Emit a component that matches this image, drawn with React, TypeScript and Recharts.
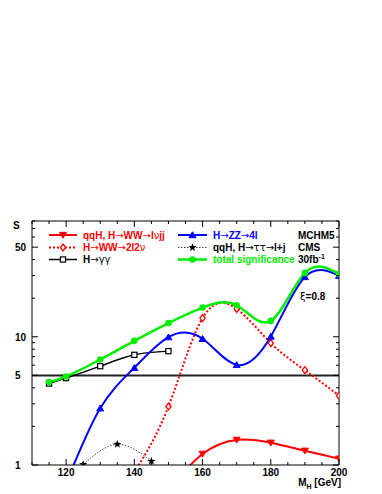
import React from 'react';
import { LineChart, Line, XAxis, YAxis, ReferenceLine } from 'recharts';

const FONT = '"Liberation Sans", Arial, Helvetica, sans-serif';
const SYM = '"DejaVu Sans", sans-serif';

// ---- data ----
const wwLvjjMass = [150, 160, 170, 180, 190, 200];
const wwLvjjS = [0.65, 1.22, 1.57, 1.49, 1.29, 1.12];

const ww2l2vMass = [140, 150, 160, 170, 180, 190, 200];
const ww2l2vS = [0.88, 2.86, 14.0, 16.5, 8.93, 5.49, 3.48];

const ggMass = [115, 120, 130, 140, 150];
const ggS = [4.32, 4.76, 5.9, 7.23, 7.73];

const zz4lMass = [120, 130, 140, 150, 160, 170, 180, 190, 200];
const zz4lS = [0.72, 2.77, 5.73, 9.94, 9.65, 6.04, 10.05, 29.3, 30.0];

const tautauMass = [125, 135, 145];
const tautauS = [1.01, 1.45, 1.07];

const totalMass = [115, 120, 130, 140, 150, 160, 170, 180, 190, 200];
const totalS = [4.43, 4.9, 6.65, 9.3, 12.8, 16.9, 17.6, 13.3, 31.5, 30.9];

const xTicks = [110, 115, 120, 125, 130, 135, 140, 145, 150, 155, 160, 165, 170, 175, 180, 185, 190, 195, 200];
const xLabels = [120, 140, 160, 180, 200];
const yTicks = [1, 2, 3, 4, 5, 6, 7, 8, 9, 10, 20, 30, 40, 50, 60, 70, 80];
const yLabels = [1, 5, 10, 50];
const yMajor = [1, 5, 10, 50];
const refLevel = 5;

const toRows = (m: number[], s: number[]) => m.map((x, i) => ({ m: x, s: s[i] }));

// ---- markers ----
const RED = '#ff0000';
const BLUE = '#0000ff';
const GREEN = '#00ee00';

function starPath(cx: number, cy: number, R: number, r: number) {
  let d = '';
  for (let i = 0; i < 10; i++) {
    const ang = -Math.PI / 2 + (i * Math.PI) / 5;
    const rad = i % 2 === 0 ? R : r;
    d += (i === 0 ? 'M' : 'L') + (cx + rad * Math.cos(ang)).toFixed(2) + ',' + (cy + rad * Math.sin(ang)).toFixed(2);
  }
  return d + 'Z';
}

function Marker({ kind, cx, cy }: { kind: string; cx: number; cy: number }) {
  switch (kind) {
    case 'tdown':
      return <path d={`M${cx - 3.5},${cy - 2.7}L${cx + 3.5},${cy - 2.7}L${cx},${cy + 3.2}Z`} fill={RED} stroke={RED} />;
    case 'diamond':
      return <path d={`M${cx},${cy - 3.5}L${cx + 2.6},${cy}L${cx},${cy + 3.5}L${cx - 2.6},${cy}Z`} fill="#fff" stroke={RED} strokeWidth={1.3} />;
    case 'square':
      return <rect x={cx - 2.6} y={cy - 2.6} width={5.2} height={5.2} fill="#fff" stroke="#000" strokeWidth={1.2} />;
    case 'tup':
      return <path d={`M${cx - 3.5},${cy + 2.7}L${cx + 3.5},${cy + 2.7}L${cx},${cy - 3.2}Z`} fill={BLUE} stroke={BLUE} />;
    case 'star':
      return <path d={starPath(cx, cy, 4.3, 1.8)} fill="#000" />;
    case 'circle':
      return <circle cx={cx} cy={cy} r={3.3} fill={GREEN} />;
    default:
      return null;
  }
}

const dotFor = (kind: string) => (props: any) => {
  const { cx, cy, index, payload } = props;
  if (payload == null || payload.s < 1 || cx == null || cy == null) return <g key={`d-${kind}-${index}`} />;
  return (
    <g key={`d-${kind}-${index}`}>
      <Marker kind={kind} cx={cx} cy={cy} />
    </g>
  );
};

// ---- rich label: special symbols in DejaVu Sans ----
const SPECIAL = /[→γτνξ]/;
function Rich({ text }: { text: string }) {
  const parts: React.ReactNode[] = [];
  let buf = '';
  let k = 0;
  for (const ch of Array.from(text)) {
    if (SPECIAL.test(ch)) {
      if (buf) parts.push(<tspan key={k++}>{buf}</tspan>);
      buf = '';
      parts.push(
        <tspan key={k++} fontFamily={SYM} fontWeight="normal">
          {ch}
        </tspan>
      );
    } else {
      buf += ch;
    }
  }
  if (buf) parts.push(<tspan key={k++}>{buf}</tspan>);
  return <>{parts}</>;
}

// ---- ticks ----
const LeftTick = (props: any) => {
  const { x, y, payload } = props;
  const v = payload.value;
  const len = yMajor.includes(v) ? 6 : 3;
  return (
    <g>
      <line x1={x} x2={x + len} y1={y} y2={y} stroke="#000" strokeWidth={1} />
      {yLabels.includes(v) && (
        <text x={15} y={y + 4} fontFamily={FONT} fontWeight="bold" fontSize={10} fill="#000">
          {v}
        </text>
      )}
    </g>
  );
};

const RightTick = (props: any) => {
  const { x, y, payload } = props;
  const v = payload.value;
  const len = yMajor.includes(v) ? 6 : 3;
  return <line x1={x - len} x2={x} y1={y} y2={y} stroke="#000" strokeWidth={1} />;
};

const BottomTick = (props: any) => {
  const { x, y, payload } = props;
  const v = payload.value;
  const major = v % 20 === 0;
  return (
    <g>
      <line x1={x} x2={x} y1={y} y2={y - (major ? 6 : 3)} stroke="#000" strokeWidth={1} />
      {xLabels.includes(v) && (
        <text x={x} y={y + 11} textAnchor="middle" fontFamily={FONT} fontWeight="bold" fontSize={10} fill="#000">
          {v}
        </text>
      )}
    </g>
  );
};

const TopTick = (props: any) => {
  const { x, y, payload } = props;
  const v = payload.value;
  const major = v % 20 === 0;
  return <line x1={x} x2={x} y1={y} y2={y + (major ? 6 : 3)} stroke="#000" strokeWidth={1} />;
};

// ---- legend overlay ----
const legendRows = [235, 247.5, 259.5];

function LegendItem({ x1, x2, y, color, dash, kind, label, textX, textColor, width }: any) {
  return (
    <g>
      <line x1={x1} x2={x2} y1={y} y2={y} stroke={color} strokeWidth={width} strokeDasharray={dash} />
      <Marker kind={kind} cx={(x1 + x2) / 2} cy={y} />
      <text x={textX} y={y + 3.6} fontFamily={FONT} fontWeight="bold" fontSize={10} fill={textColor}>
        <Rich text={label} />
      </text>
    </g>
  );
}

export default function App() {
  return (
    <div style={{ position: 'absolute', left: 0, top: 0, width: 382, height: 494, background: '#fff' }}>
      <LineChart width={382} height={494} margin={{ top: 0, right: 0, bottom: 0, left: 0 }}>
        <XAxis
          xAxisId="b"
          dataKey="m"
          type="number"
          domain={[110, 200]}
          ticks={xTicks}
          interval={0}
          allowDataOverflow
          orientation="bottom"
          height={29}
          tickLine={false}
          tickSize={0}
          tickMargin={0}
          tick={<BottomTick />}
          axisLine={{ stroke: '#000', strokeWidth: 1 }}
        />
        <XAxis
          xAxisId="t"
          dataKey="m"
          type="number"
          domain={[110, 200]}
          ticks={xTicks}
          interval={0}
          allowDataOverflow
          orientation="top"
          height={221}
          tickLine={false}
          tickSize={0}
          tickMargin={0}
          tick={<TopTick />}
          axisLine={{ stroke: '#000', strokeWidth: 1 }}
        />
        <YAxis
          yAxisId="l"
          dataKey="s"
          type="number"
          scale="log"
          domain={[1, 80]}
          ticks={yTicks}
          interval={0}
          allowDataOverflow
          orientation="left"
          width={32}
          tickLine={false}
          tickSize={0}
          tickMargin={0}
          tick={<LeftTick />}
          axisLine={{ stroke: '#000', strokeWidth: 1 }}
        />
        <YAxis
          yAxisId="r"
          dataKey="s"
          type="number"
          scale="log"
          domain={[1, 80]}
          ticks={yTicks}
          interval={0}
          allowDataOverflow
          orientation="right"
          width={43}
          tickLine={false}
          tickSize={0}
          tickMargin={0}
          tick={<RightTick />}
          axisLine={{ stroke: '#000', strokeWidth: 1 }}
        />
        <ReferenceLine xAxisId="b" yAxisId="l" y={refLevel} stroke="#222" strokeWidth={2} />
        <Line
          xAxisId="b"
          yAxisId="l"
          data={toRows(tautauMass, tautauS)}
          dataKey="s"
          type="natural"
          stroke="#444"
          strokeWidth={1}
          strokeDasharray="1.5 1.5"
          dot={dotFor('star')}
          isAnimationActive={false}
        />
        <Line
          xAxisId="b"
          yAxisId="l"
          data={toRows(ggMass, ggS)}
          dataKey="s"
          type="natural"
          stroke="#000"
          strokeWidth={1.5}
          dot={dotFor('square')}
          isAnimationActive={false}
        />
        <Line
          xAxisId="b"
          yAxisId="l"
          data={toRows(wwLvjjMass, wwLvjjS)}
          dataKey="s"
          type="natural"
          stroke={RED}
          strokeWidth={2}
          dot={dotFor('tdown')}
          isAnimationActive={false}
        />
        <Line
          xAxisId="b"
          yAxisId="l"
          data={toRows(ww2l2vMass, ww2l2vS)}
          dataKey="s"
          type="natural"
          stroke={RED}
          strokeWidth={2}
          strokeDasharray="2 2"
          dot={dotFor('diamond')}
          isAnimationActive={false}
        />
        <Line
          xAxisId="b"
          yAxisId="l"
          data={toRows(zz4lMass, zz4lS)}
          dataKey="s"
          type="natural"
          stroke={BLUE}
          strokeWidth={2}
          dot={dotFor('tup')}
          isAnimationActive={false}
        />
        <Line
          xAxisId="b"
          yAxisId="l"
          data={toRows(totalMass, totalS)}
          dataKey="s"
          type="natural"
          stroke={GREEN}
          strokeWidth={2.5}
          dot={dotFor('circle')}
          isAnimationActive={false}
        />
      </LineChart>
      <svg
        width={382}
        height={494}
        style={{ position: 'absolute', left: 0, top: 0, pointerEvents: 'none' }}
      >
        <LegendItem x1={49} x2={77} y={legendRows[0]} color={RED} width={2} kind="tdown" label="qqH, H→WW→lνjj" textX={83} textColor={RED} />
        <LegendItem x1={49} x2={77} y={legendRows[1]} color={RED} width={2} dash="2 2" kind="diamond" label="H→WW→2l2ν" textX={83} textColor={RED} />
        <LegendItem x1={49} x2={77} y={legendRows[2]} color="#000" width={1.5} kind="square" label="H→γγ" textX={83} textColor="#000" />
        <LegendItem x1={178} x2={207} y={legendRows[0]} color={BLUE} width={2} kind="tup" label="H→ZZ→4l" textX={213} textColor={BLUE} />
        <LegendItem x1={178} x2={207} y={legendRows[1]} color="#444" width={1} dash="1.5 1.5" kind="star" label="qqH, H→ττ→l+j" textX={213} textColor="#000" />
        <LegendItem x1={178} x2={207} y={legendRows[2]} color={GREEN} width={2.5} kind="circle" label="total significance" textX={213} textColor={GREEN} />
        <g fontFamily={FONT} fontWeight="bold" fontSize={10} fill="#000">
          <text x={298} y={legendRows[0] + 3.6}>MCHM5</text>
          <text x={298} y={legendRows[1] + 3.6}>CMS</text>
          <text x={298} y={legendRows[2] + 3.6}>
            30fb<tspan dy={-4} fontSize={7}>-1</tspan>
          </text>
          <text x={300} y={300}>
            <Rich text="ξ=0.8" />
          </text>
          <text x={13} y={229}>S</text>
          <text x={341} y={486} textAnchor="end">
            M<tspan dy={2.5} fontSize={7}>H</tspan>
            <tspan dy={-2.5}> [GeV]</tspan>
          </text>
        </g>
      </svg>
    </div>
  );
}
